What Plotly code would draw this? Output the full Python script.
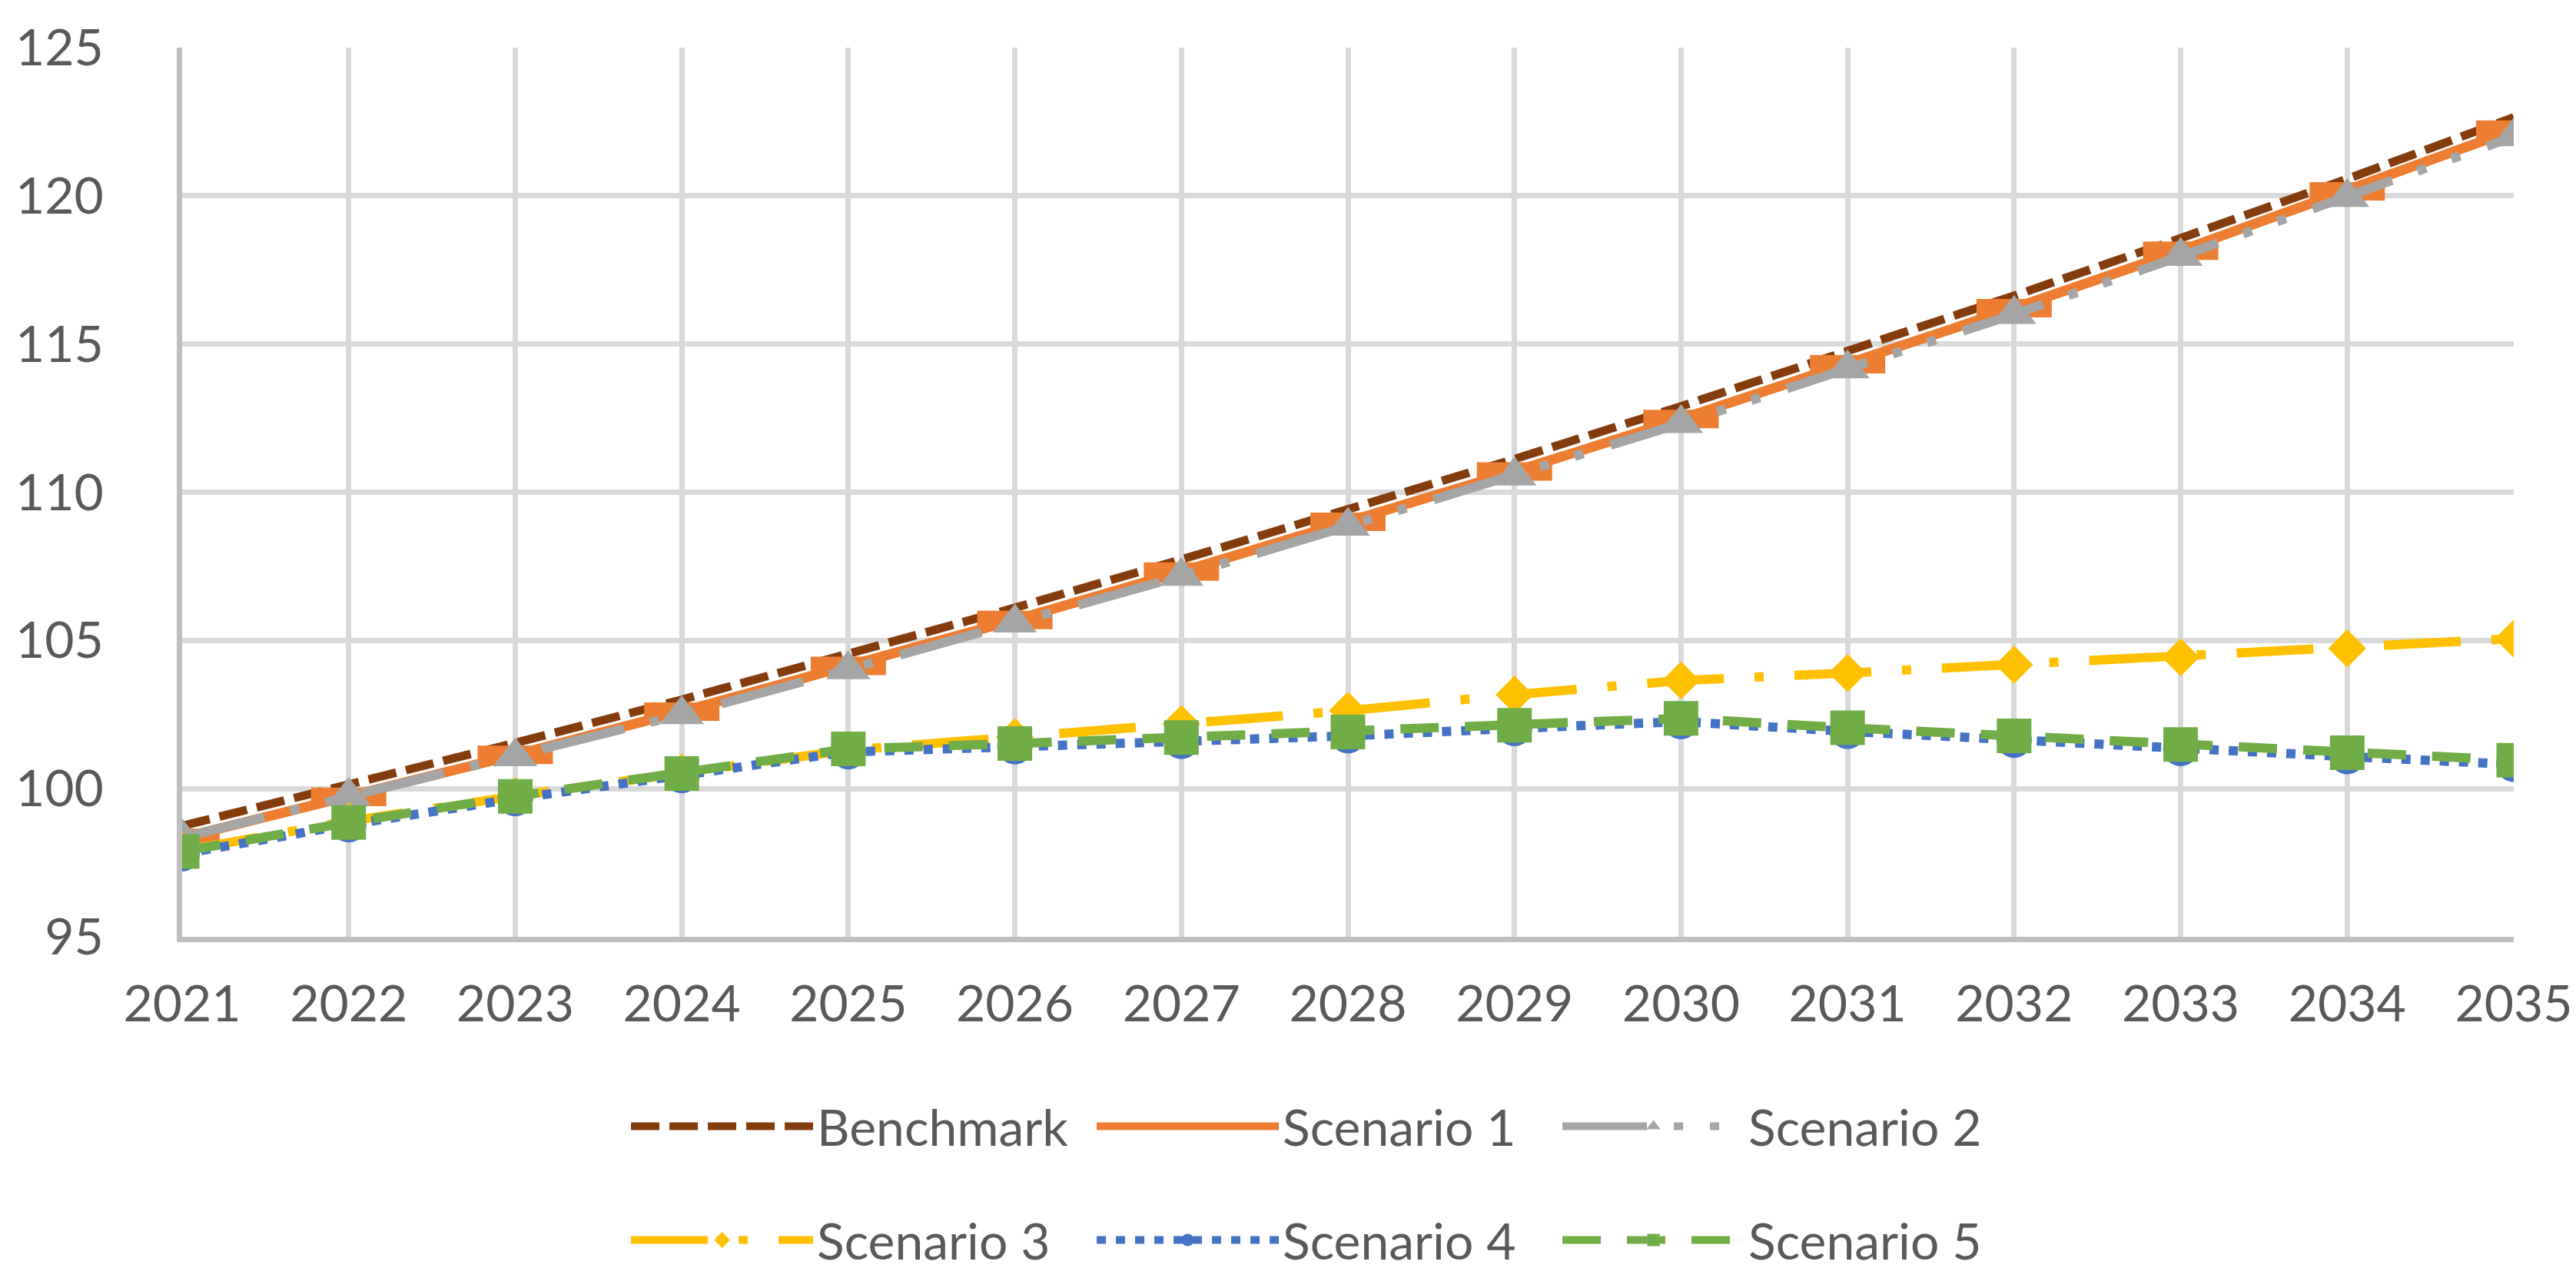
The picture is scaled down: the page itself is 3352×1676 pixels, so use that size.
import plotly.graph_objects as go

years = list(range(2021, 2036))
benchmark = [98.74, 100.12, 101.54, 103.0, 104.54, 106.1, 107.73, 109.42, 111.12, 112.9, 114.75, 116.63, 118.57, 120.57, 122.65]
scenario1 = [98.34, 99.72, 101.14, 102.6, 104.14, 105.69, 107.32, 109.0, 110.70, 112.47, 114.32, 116.21, 118.15, 120.15, 122.23]
scenario2 = [98.35, 99.75, 101.08, 102.5, 104.02, 105.59, 107.17, 108.86, 110.55, 112.32, 114.17, 116.0, 117.96, 119.95, 122.0]
scenario3 = [97.9, 98.9, 99.75, 100.55, 101.3, 101.74, 102.18, 102.63, 103.17, 103.65, 103.9, 104.18, 104.43, 104.73, 105.06]
scenario4 = [97.8, 98.78, 99.66, 100.44, 101.24, 101.41, 101.59, 101.78, 102.03, 102.26, 101.93, 101.63, 101.35, 101.08, 100.82]
scenario5 = [97.88, 98.86, 99.74, 100.51, 101.34, 101.52, 101.72, 101.91, 102.14, 102.37, 102.05, 101.78, 101.49, 101.21, 100.96]
y_ticks = [95, 100, 105, 110, 115, 120, 125]

FONT = "Lato"
TXT = "#595959"

fig = go.Figure()
fig.add_trace(go.Scatter(x=years, y=benchmark, name="Benchmark", mode="lines",
                         line=dict(color="#843C0C", width=11, dash="37px,13px"), legend="legend"))
fig.add_trace(go.Scatter(x=years, y=scenario1, name="Scenario 1", mode="lines+markers",
                         line=dict(color="#ED7D31", width=13),
                         marker=dict(symbol="line-ew", size=70, color="#ED7D31",
                                     line=dict(color="#ED7D31", width=24)), legend="legend"))
fig.add_trace(go.Scatter(x=years, y=scenario2, name="Scenario 2", mode="lines+markers",
                         line=dict(color="#A5A5A5", width=12, dash="110px,35px,12px,35px,12px,37px"),
                         marker=dict(symbol="triangle-up", size=50, color="#A5A5A5"), legend="legend"))
fig.add_trace(go.Scatter(x=years, y=scenario3, name="Scenario 3", mode="lines+markers",
                         line=dict(color="#FFC000", width=12, dash="100px,40px,12px,40px"),
                         marker=dict(symbol="diamond", size=38, color="#FFC000"), legend="legend2"))
fig.add_trace(go.Scatter(x=years, y=scenario4, name="Scenario 4", mode="lines+markers",
                         line=dict(color="#4472C4", width=12, dash="12px,13px"),
                         marker=dict(symbol="circle", size=46, color="#4472C4"), legend="legend2"))
fig.add_trace(go.Scatter(x=years, y=scenario5, name="Scenario 5", mode="lines+markers",
                         line=dict(color="#70AD47", width=12, dash="50px,34px"),
                         marker=dict(symbol="square", size=45, color="#70AD47"), legend="legend2"))

W, H = 3352, 1676
L, R, T, B = 228, 85, 47, 465
pw = W - L - R
ph = H - T - B

legend_common = dict(orientation="h", font=dict(family=FONT, size=66, color=TXT),
                     entrywidth=354, entrywidthmode="pixels", itemwidth=237,
                     bgcolor="rgba(0,0,0,0)", xanchor="left", yanchor="middle",
                     traceorder="normal", itemsizing="trace")

fig.update_layout(
    width=W, height=H,
    margin=dict(l=L, r=R, t=T, b=B, pad=0),
    paper_bgcolor="white", plot_bgcolor="white",
    font=dict(family=FONT, size=66, color=TXT),
    showlegend=True,
    legend=dict(**legend_common, x=(808 - L) / pw, y=-(1459 - T - ph) / ph),
    legend2=dict(**legend_common, x=(808 - L) / pw, y=-(1608 - T - ph) / ph),
    xaxis=dict(range=[2021, 2035], tickmode="array", tickvals=years,
               ticktext=[str(y) for y in years],
               showgrid=True, gridcolor="#D9D9D9", gridwidth=7,
               showline=True, linecolor="#BFBFBF", linewidth=7,
               zeroline=False, ticks="", ticklabelstandoff=24,
               tickfont=dict(family=FONT, size=66, color=TXT)),
    yaxis=dict(range=[95, 125], tickmode="array", tickvals=y_ticks,
               showgrid=True, gridcolor="#D9D9D9", gridwidth=7,
               showline=True, linecolor="#BFBFBF", linewidth=7,
               zeroline=False, ticks="", ticklabelstandoff=82,
               tickfont=dict(family=FONT, size=66, color=TXT)),
)

fig.write_html("out.html")
